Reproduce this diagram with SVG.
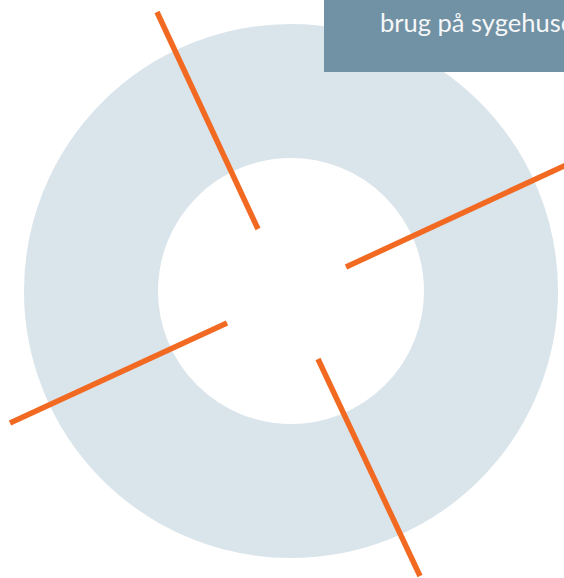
<svg xmlns="http://www.w3.org/2000/svg" width="564" height="578" viewBox="0 0 564 578">
  <style>
    .ring { fill: none; stroke: #d9e4eb; stroke-width: 134; }
    .spoke { stroke: #f26a21; stroke-width: 5.5; stroke-linecap: butt; fill: none; }
    .box { fill: #7191a4; }
    .label { fill: #f5f7f8; font-family: Lato, "Open Sans", "Noto Sans", sans-serif; font-size: 25.5px; }
  </style>
  <g id="ring">
    <circle class="ring" cx="291" cy="291" r="200"/>
  </g>
  <g id="title-box">
    <rect class="box" x="324" y="0" width="240" height="72"/>
    <text class="label" x="380" y="32">brug på sygehuse</text>
  </g>
  <g id="connectors">
    <line class="spoke" x1="157" y1="12" x2="258" y2="229"/>
    <line class="spoke" x1="346" y1="267" x2="566" y2="165"/>
    <line class="spoke" x1="227" y1="323" x2="10" y2="423"/>
    <line class="spoke" x1="318" y1="359" x2="420" y2="576"/>
  </g>
</svg>
